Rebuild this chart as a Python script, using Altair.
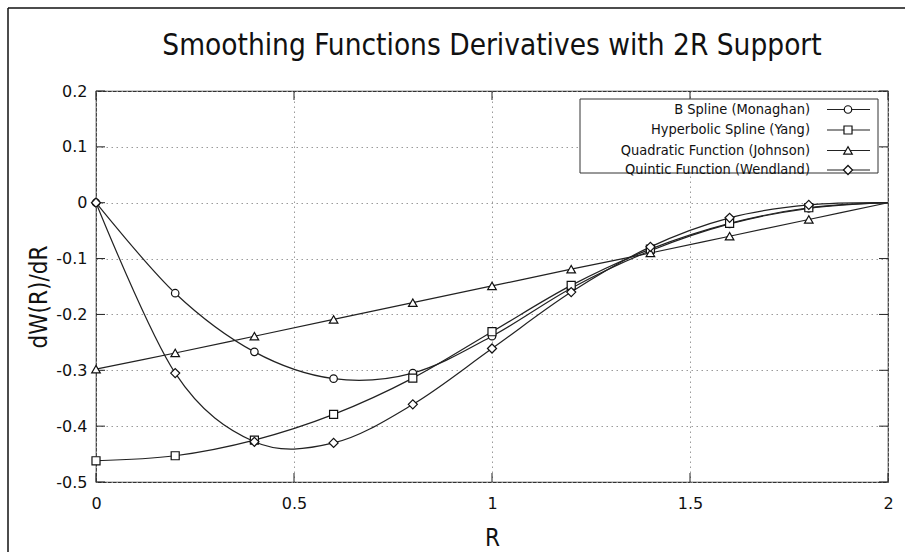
import altair as alt
import pandas as pd

# ---------------- data ----------------
R = [0.0, 0.2, 0.4, 0.6, 0.8, 1.0, 1.2, 1.4, 1.6, 1.8, 2.0]
b_spline = [0.0, -0.162, -0.267, -0.315, -0.305, -0.239, -0.153, -0.086, -0.038, -0.010, 0.0]
hyperbolic = [-0.462, -0.453, -0.425, -0.379, -0.314, -0.231, -0.148, -0.083, -0.037, -0.009, 0.0]
quadratic = [-0.298, -0.269, -0.239, -0.209, -0.179, -0.149, -0.119, -0.090, -0.060, -0.030, 0.0]
quintic = [0.0, -0.305, -0.428, -0.430, -0.361, -0.261, -0.160, -0.079, -0.027, -0.004, 0.0]

names = [
    "B Spline (Monaghan)",
    "Hyperbolic Spline (Yang)",
    "Quadratic Function (Johnson)",
    "Quintic Function (Wendland)",
]
series_values = [b_spline, hyperbolic, quadratic, quintic]
x_ticks = [0, 0.5, 1, 1.5, 2]
y_ticks = [-0.5, -0.4, -0.3, -0.2, -0.1, 0, 0.1, 0.2]

title_text = "Smoothing Functions Derivatives with 2R Support"

# ---------------- styling ----------------
W, H = 792, 391
PAD_L, PAD_T = 96, 91
TOTAL_W, TOTAL_H = 905, 552
FONT = "DejaVu Sans"
CFONT = "DejaVu Sans Condensed, DejaVu Sans"
INK = "#222222"
shapes = ["circle", "square", "triangle-up", "diamond"]
sizes = [56, 82, 66, 54]

rows = []
for n, vals in zip(names, series_values):
    for r, v in zip(R, vals):
        rows.append({"R": r, "dW": v, "series": n})
df = pd.DataFrame(rows)

xscale = alt.Scale(domain=[0, 2], nice=False, zero=False)
yscale = alt.Scale(domain=[-0.5, 0.2], nice=False, zero=False)

x_axis = alt.Axis(values=x_ticks, title="R", labelExpr="'' + datum.value",
                  labelPadding=13, labelFlush=False, titleX=W / 2, titleY=56,
                  titleBaseline="middle", titleAlign="center")
y_axis = alt.Axis(values=y_ticks, title="dW(R)/dR", labelExpr="'' + datum.value",
                  labelPadding=9, titleX=-57, titleY=H / 2 + 10,
                  titleAngle=270, titleBaseline="middle", titleAlign="center")

base = alt.Chart(df)

lines = base.mark_line(interpolate="cardinal", color=INK, strokeWidth=1.2).encode(
    x=alt.X("R:Q", scale=xscale, axis=x_axis),
    y=alt.Y("dW:Q", scale=yscale, axis=y_axis),
    detail="series:N",
)

shape_scale = alt.Scale(domain=names, range=shapes)
size_scale = alt.Scale(domain=names, range=sizes)

points = base.mark_point(filled=True, fill="white", stroke="#111111", strokeWidth=1.2,
                         opacity=1).encode(
    x=alt.X("R:Q", scale=xscale, axis=x_axis),
    y=alt.Y("dW:Q", scale=yscale, axis=y_axis),
    shape=alt.Shape("series:N", scale=shape_scale, legend=None),
    size=alt.Size("series:N", scale=size_scale, legend=None),
).transform_filter("datum.R < 1.99")

# inward tick marks on all four sides of the frame
ydf = pd.DataFrame({"v": y_ticks})
xdf = pd.DataFrame({"v": x_ticks})
TL = 9
tick_l = alt.Chart(ydf).mark_rule(color=INK).encode(
    y=alt.Y("v:Q", scale=yscale, axis=y_axis), x=alt.value(0), x2=alt.value(TL))
tick_r = alt.Chart(ydf).mark_rule(color=INK).encode(
    y=alt.Y("v:Q", scale=yscale, axis=y_axis), x=alt.value(W - TL), x2=alt.value(W))
tick_b = alt.Chart(xdf).mark_rule(color=INK).encode(
    x=alt.X("v:Q", scale=xscale, axis=x_axis), y=alt.value(H), y2=alt.value(H - TL))
tick_t = alt.Chart(xdf).mark_rule(color=INK).encode(
    x=alt.X("v:Q", scale=xscale, axis=x_axis), y=alt.value(0), y2=alt.value(TL))

one = pd.DataFrame({"a": [0]})

# legend box (gnuplot style: text right aligned, sample on the right)
LBX1, LBX2, LBY1, LBY2 = 580 - PAD_L, 878 - PAD_L, 99 - PAD_T, 173 - PAD_T
legend_box = alt.Chart(one).mark_rect(fill="white", stroke="#333333", strokeWidth=1).encode(
    x=alt.value(LBX1), x2=alt.value(LBX2), y=alt.value(LBY1), y2=alt.value(LBY2))

legend_layers = []
row_y = [109.5 - PAD_T, 130 - PAD_T, 150.5 - PAD_T, 170 - PAD_T]
for i, n in enumerate(names):
    ldf = pd.DataFrame({"series": [n]})
    legend_layers.append(
        alt.Chart(ldf).mark_text(align="right", baseline="middle", font=CFONT,
                                 fontSize=14.5, color="#111111").encode(
            text="series:N", x=alt.value(810 - PAD_L), y=alt.value(row_y[i])))
    legend_layers.append(
        alt.Chart(ldf).mark_rule(color=INK, strokeWidth=1.2).encode(
            x=alt.value(827 - PAD_L), x2=alt.value(870 - PAD_L), y=alt.value(row_y[i])))
    legend_layers.append(
        alt.Chart(ldf).mark_point(filled=True, fill="white", stroke="#111111",
                                  strokeWidth=1.2, opacity=1).encode(
            x=alt.value(848 - PAD_L), y=alt.value(row_y[i]),
            shape=alt.Shape("series:N", scale=shape_scale, legend=None),
            size=alt.Size("series:N", scale=size_scale, legend=None)))

title_mark = alt.Chart(pd.DataFrame({"t": [title_text]})).mark_text(
    align="center", baseline="alphabetic", font=CFONT,
    fontSize=29.5, color="#111111").encode(
    text="t:N", x=alt.value(W / 2), y=alt.value(55 - PAD_T))

# outer picture frame: only its left and top edges are inside the picture
frame_left = alt.Chart(one).mark_rule(color="#111111", strokeWidth=1.5).encode(
    x=alt.value(8 - PAD_L), y=alt.value(8 - PAD_T), y2=alt.value(TOTAL_H - PAD_T))
frame_top = alt.Chart(one).mark_rule(color="#111111", strokeWidth=1.5).encode(
    x=alt.value(8 - PAD_L), x2=alt.value(TOTAL_W - PAD_L), y=alt.value(8 - PAD_T))

chart = alt.layer(
    lines, tick_l, tick_r, tick_b, tick_t, points, legend_box, *legend_layers,
    title_mark, frame_left, frame_top,
).properties(
    width=W, height=H,
    autosize=alt.AutoSizeParams(type="none"),
    padding={"left": PAD_L, "top": PAD_T,
             "right": TOTAL_W - PAD_L - W, "bottom": TOTAL_H - PAD_T - H},
    background="white",
).configure_view(
    stroke="#333333", strokeWidth=1.2,
).configure_axis(
    domain=False, ticks=False, tickSize=0,
    grid=True, gridDash=[1.5, 3.5], gridColor="#9a9a9a", gridWidth=1,
    labelFont=FONT, labelFontSize=16, labelColor="#111111",
    titleFont=CFONT, titleFontSize=24, titleFontWeight="normal", titleColor="#111111",
)

chart.save("out.html", embed_options={"renderer": "svg", "actions": False})
